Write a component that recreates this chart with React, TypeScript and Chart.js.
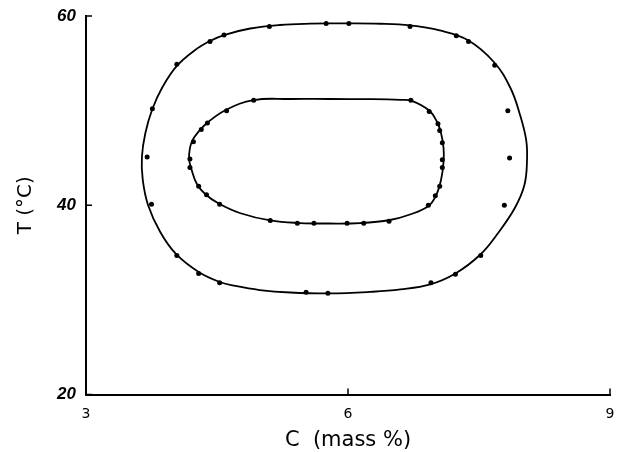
import React, { useEffect, useRef } from "react";
import { Chart, registerables } from "chart.js";

Chart.register(...registerables);

// Tick values
const xTicks = [3, 6, 9];
const yTicks = [20, 40, 60];

// Measured points, outer loop: C (mass %) and T (°C)
const outerC = [4.04, 3.76, 3.70, 3.75, 4.04, 4.29, 4.53, 5.52, 5.77, 6.95, 7.23, 7.52, 7.79, 7.85, 7.83, 7.68, 7.38, 7.24, 6.71, 6.01, 5.75, 5.10, 4.58, 4.42];
const outerT = [54.9, 50.2, 45.1, 40.1, 34.7, 32.8, 31.8, 30.8, 30.7, 31.8, 32.7, 34.7, 40.0, 45.0, 50.0, 54.8, 57.3, 57.9, 58.9, 59.2, 59.2, 58.9, 58.0, 57.3];

// Measured points, inner loop
const innerC = [4.92, 4.61, 4.39, 4.32, 4.23, 4.19, 4.19, 4.29, 4.38, 4.53, 5.11, 5.42, 5.61, 5.99, 6.18, 6.47, 6.92, 7.00, 7.05, 7.08, 7.08, 7.08, 7.05, 7.03, 6.93, 6.72];
const innerT = [51.1, 50.0, 48.7, 48.0, 46.7, 44.9, 44.0, 42.0, 41.1, 40.1, 38.4, 38.1, 38.1, 38.1, 38.1, 38.3, 40.0, 41.0, 42.0, 44.0, 44.8, 46.6, 47.9, 48.6, 49.9, 51.1];

// Fitted outer curve
const outerCurveC = [5.91, 6.37, 6.71, 7.05, 7.37, 7.67, 7.86, 7.97, 8.04, 8.05, 8.02, 7.91, 7.71, 7.51, 7.23, 6.94, 6.60, 6.25, 5.79, 5.34, 4.99, 4.71, 4.53, 4.29, 4.03, 3.85, 3.71, 3.65, 3.64, 3.68, 3.76, 3.87, 4.04, 4.25, 4.42, 4.58, 4.88, 5.22, 5.57, 5.91];
const outerCurveT = [59.23, 59.18, 59.0, 58.47, 57.46, 55.14, 52.39, 49.54, 46.9, 44.78, 42.14, 39.71, 36.96, 34.74, 32.79, 31.63, 31.1, 30.84, 30.68, 30.78, 31.04, 31.47, 31.89, 32.94, 34.85, 37.17, 40.03, 42.67, 45.1, 47.64, 50.17, 52.39, 54.72, 56.41, 57.36, 57.99, 58.68, 59.05, 59.19, 59.23];

// Fitted inner curve
const innerCurveC = [5.79, 6.25, 6.60, 6.73, 6.93, 7.02, 7.065, 7.094, 7.094, 7.065, 7.01, 6.92, 6.71, 6.48, 6.14, 5.79, 5.45, 5.11, 4.76, 4.52, 4.37, 4.27, 4.21, 4.18, 4.21, 4.305, 4.40, 4.60, 4.92, 5.34, 5.79];
const innerCurveT = [51.23, 51.21, 51.14, 51.04, 50.01, 48.8, 47.64, 46.05, 44.57, 42.67, 41.08, 39.92, 39.02, 38.44, 38.12, 38.07, 38.12, 38.39, 39.18, 40.18, 41.14, 42.25, 43.73, 44.99, 46.68, 47.95, 48.8, 50.07, 51.12, 51.23, 51.23];

const toXY = (xs: number[], ys: number[]) => xs.map((x, i) => ({ x, y: ys[i] }));

const inwardTicks = {
  id: "inwardTicks",
  afterDraw(chart: any) {
    const { ctx, scales } = chart;
    const xs = scales.x;
    const ys = scales.y;
    const len = 6;
    ctx.save();
    ctx.strokeStyle = "#000";
    ctx.lineWidth = 1.5;
    ctx.beginPath();
    xTicks.forEach((v) => {
      const px = xs.getPixelForValue(v);
      ctx.moveTo(px, ys.bottom);
      ctx.lineTo(px, ys.bottom - len);
    });
    yTicks.forEach((v) => {
      const py = ys.getPixelForValue(v);
      ctx.moveTo(xs.left, py);
      ctx.lineTo(xs.left + len, py);
    });
    ctx.stroke();
    ctx.restore();
  },
};

export default function App() {
  const ref = useRef<HTMLCanvasElement>(null);
  useEffect(() => {
    if (!ref.current) return;
    const chart = new Chart(ref.current, {
      type: "scatter",
      data: {
        datasets: [
          {
            data: toXY(outerCurveC, outerCurveT),
            showLine: true,
            borderColor: "#000",
            borderWidth: 1.8,
            pointRadius: 0,
            tension: 0.4,
          },
          {
            data: toXY(innerCurveC, innerCurveT),
            showLine: true,
            borderColor: "#000",
            borderWidth: 1.8,
            pointRadius: 0,
            tension: 0.4,
          },
          {
            data: toXY(outerC, outerT),
            showLine: false,
            pointRadius: 2.5,
            pointBackgroundColor: "#000",
            pointBorderWidth: 0,
          },
          {
            data: toXY(innerC, innerT),
            showLine: false,
            pointRadius: 2.5,
            pointBackgroundColor: "#000",
            pointBorderWidth: 0,
          },
        ],
      },
      options: {
        animation: false,
        responsive: false,
        layout: { padding: { top: 16, right: 7, bottom: 0, left: 0 } },
        plugins: { legend: { display: false }, tooltip: { enabled: false } },
        scales: {
          x: {
            type: "linear",
            min: 3,
            max: 9,
            afterBuildTicks: (s: any) => {
              s.ticks = xTicks.map((v) => ({ value: v }));
            },
            afterFit: (s: any) => {
              s.height = 57.5;
              s.paddingLeft = 0;
              s.paddingRight = 0;
            },
            grid: { display: false, drawTicks: false },
            border: { display: true, color: "#000", width: 2 },
            ticks: {
              padding: 11,
              color: "#000",
              maxRotation: 0,
              font: { family: "DejaVu Sans", size: 14 },
            },
            title: {
              display: true,
              text: "C  (mass %)",
              color: "#000",
              padding: { top: 0, bottom: -1 },
              font: { family: "DejaVu Sans", size: 21 },
            },
          },
          y: {
            type: "linear",
            min: 20,
            max: 60,
            afterBuildTicks: (s: any) => {
              s.ticks = yTicks.map((v) => ({ value: v }));
            },
            afterFit: (s: any) => {
              s.width = 86;
              s.paddingTop = 0;
              s.paddingBottom = 0;
            },
            grid: { display: false, drawTicks: false },
            border: { display: true, color: "#000", width: 2 },
            ticks: {
              padding: 10,
              color: "#000",
              font: { family: "Liberation Sans", size: 17, weight: "bold", style: "italic" },
            },
            title: {
              display: true,
              text: "T (°C)",
              color: "#000",
              padding: { top: 14, bottom: 0 },
              font: { family: "DejaVu Sans", size: 20 },
            },
          },
        },
      },
      plugins: [inwardTicks],
    });
    return () => chart.destroy();
  }, []);
  return (
    <div style={{ position: "fixed", left: 0, top: 0, width: 617, height: 452, background: "#fff" }}>
      <canvas ref={ref} width={617} height={452} />
    </div>
  );
}
